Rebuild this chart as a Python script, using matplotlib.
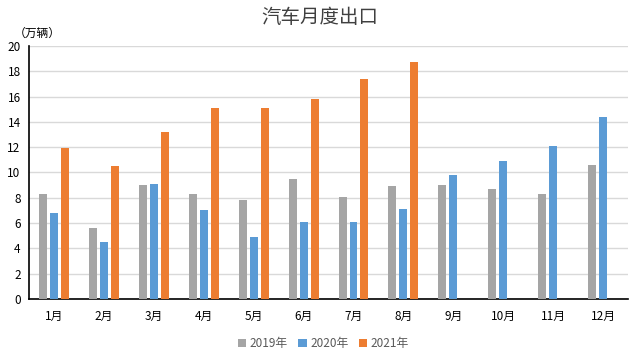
import matplotlib
matplotlib.use('Agg')
import matplotlib.pyplot as plt
import numpy as np

plt.rcParams['font.family'] = ['Noto Sans CJK SC', 'DejaVu Sans']

months = ['1月', '2月', '3月', '4月', '5月', '6月', '7月', '8月', '9月', '10月', '11月', '12月']
y2019 = [8.3, 5.6, 9.0, 8.3, 7.8, 9.5, 8.1, 8.9, 9.0, 8.7, 8.3, 10.6]
y2020 = [6.8, 4.5, 9.1, 7.0, 4.9, 6.1, 6.1, 7.1, 9.8, 10.9, 12.1, 14.4]
y2021 = [11.9, 10.5, 13.2, 15.1, 15.1, 15.8, 17.4, 18.7]

fig = plt.figure(figsize=(6.34, 3.56), dpi=100)
ax = fig.add_axes([0.0457, 0.160, 0.945, 0.711])

x = np.arange(len(months))
w = 0.16
off = 0.22
ax.bar(x - off, y2019, w, color='#a5a5a5', label='2019年', zorder=3)
ax.bar(x, y2020, w, color='#5b9bd5', label='2020年', zorder=3)
ax.bar(x[:len(y2021)] + off, y2021, w, color='#ed7d31', label='2021年', zorder=3)

ax.set_xlim(-0.5, 11.5)
ax.set_ylim(0, 20)
ax.set_yticks(range(0, 21, 2))
ax.set_xticks(x)
ax.set_xticklabels(months, fontsize=8.5)
ax.tick_params(axis='y', labelsize=8.5, length=0, pad=6)
ax.tick_params(axis='x', length=0, pad=8)
ax.grid(axis='y', color='#d9d9d9', linewidth=1, zorder=0)
for s in ['top', 'right']:
    ax.spines[s].set_visible(False)
ax.spines['left'].set_color('black')
ax.spines['bottom'].set_color('black')
ax.spines['left'].set_linewidth(1.2)
ax.spines['bottom'].set_linewidth(1.2)

fig.text(0.505, 0.95, '汽车月度出口', ha='center', va='center', fontsize=14, color='#404040')
fig.text(0.022, 0.906, '（万辆）', ha='left', va='center', fontsize=8.5)

fig.legend(loc='center', bbox_to_anchor=(0.51, 0.035), ncol=3, frameon=False,
           fontsize=8.5, handlelength=0.7, handleheight=0.7, handletextpad=0.3,
           columnspacing=0.9, labelcolor='#595959')

fig.savefig('out.png', dpi=100)
